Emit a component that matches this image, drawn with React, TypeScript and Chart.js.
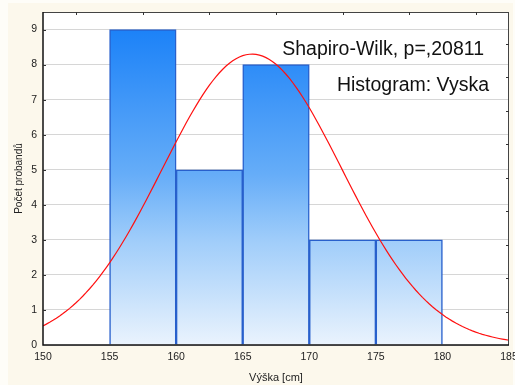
import React, { useEffect, useRef } from "react";
import { Chart, registerables } from "chart.js";

Chart.register(...registerables);

// Histogram bins (cm) and counts
const binCenters = [157.5, 162.5, 167.5, 172.5, 177.5];
const binCounts = [9, 5, 8, 3, 3];
const BIN_WIDTH = 5;

// Axis ticks
const xTicks = [150, 155, 160, 165, 170, 175, 180, 185];
const yTicks = [0, 1, 2, 3, 4, 5, 6, 7, 8, 9];
const topTicks = [152.5, 157.5, 162.5, 167.5, 172.5, 177.5, 182.5];
const rightTicks = [1, 2, 3, 4, 5, 6, 7, 8, 9];

// Fitted normal curve parameters
const FIT_MEAN = 165.7;
const FIT_SD = 6.73;
const SAMPLE_N = 28;
const CURVE_FROM = 150;
const CURVE_TO = 185;
const CURVE_STEP = 0.25;

const annotations = ["Shapiro-Wilk, p=,20811", "Histogram: Vyska"];
const xTitle = "Výška [cm]";
const yTitle = "Počet probandů";

const FONT = "'Liberation Sans', Arial, Helvetica, sans-serif";

function normalCurve() {
  const pts: { x: number; y: number }[] = [];
  const k = (SAMPLE_N * BIN_WIDTH) / (FIT_SD * Math.sqrt(2 * Math.PI));
  for (let x = CURVE_FROM; x <= CURVE_TO + 1e-9; x += CURVE_STEP) {
    const z = (x - FIT_MEAN) / FIT_SD;
    pts.push({ x, y: k * Math.exp(-0.5 * z * z) });
  }
  return pts;
}

const framePlugin = {
  id: "frame",
  beforeDraw(chart: any) {
    const { ctx, chartArea: a } = chart;
    ctx.save();
    ctx.fillStyle = "#ffffff";
    ctx.fillRect(a.left, a.top, a.right - a.left, a.bottom - a.top);
    ctx.restore();
  },
  afterDraw(chart: any) {
    const { ctx, chartArea: a, scales } = chart;
    ctx.save();
    // frame
    ctx.strokeStyle = "#444";
    ctx.lineWidth = 1;
    ctx.beginPath();
    ctx.moveTo(a.left, a.top + 0.5);
    ctx.lineTo(a.right, a.top + 0.5);
    ctx.moveTo(a.right - 0.5, a.top);
    ctx.lineTo(a.right - 0.5, a.bottom);
    ctx.stroke();
    ctx.strokeStyle = "#111";
    ctx.lineWidth = 1.5;
    ctx.beginPath();
    ctx.moveTo(a.left, a.top);
    ctx.lineTo(a.left, a.bottom);
    ctx.lineTo(a.right, a.bottom);
    ctx.stroke();

    // inward tick marks
    ctx.strokeStyle = "#333";
    ctx.lineWidth = 1;
    ctx.beginPath();
    yTicks.forEach((v) => {
      if (v === 0) return;
      const y = Math.round(scales.y.getPixelForValue(v)) + 0.5;
      ctx.moveTo(a.left, y);
      ctx.lineTo(a.left + 3, y);
    });
    topTicks.forEach((v) => {
      const x = Math.round(scales.x.getPixelForValue(v)) + 0.5;
      ctx.moveTo(x, a.top);
      ctx.lineTo(x, a.top + 3);
    });
    rightTicks.forEach((v) => {
      const y = Math.round(scales.y2.getPixelForValue(v)) + 0.5;
      ctx.moveTo(a.right, y);
      ctx.lineTo(a.right - 3, y);
    });
    ctx.stroke();

    // annotation text
    ctx.fillStyle = "#111";
    ctx.font = `19.5px ${FONT}`;
    ctx.textAlign = "right";
    ctx.textBaseline = "alphabetic";
    ctx.fillText(annotations[0], 484, 55);
    ctx.fillText(annotations[1], 489, 91);

    // axis titles
    ctx.fillStyle = "#222";
    ctx.font = `11px ${FONT}`;
    ctx.textAlign = "center";
    ctx.textBaseline = "middle";
    ctx.fillText(xTitle, (a.left + a.right) / 2, 378);
    ctx.save();
    ctx.translate(19, (a.top + a.bottom) / 2);
    ctx.rotate(-Math.PI / 2);
    ctx.font = `10px ${FONT}`;
    ctx.fillText(yTitle, 0, 0);
    ctx.restore();
    ctx.restore();
  },
};

function barFill(c: any) {
  const chart = c.chart;
  const { chartArea, scales } = chart;
  if (!chartArea || !scales.y) return "rgb(102,173,248)";
  const y = scales.y;
  const g = chart.ctx.createLinearGradient(0, y.getPixelForValue(9), 0, y.getPixelForValue(0));
  g.addColorStop(0, "rgb(28,130,248)");
  g.addColorStop(0.46, "rgb(102,173,248)");
  g.addColorStop(0.67, "rgb(160,205,250)");
  g.addColorStop(1, "rgb(234,243,253)");
  return g;
}

export default function App() {
  const canvasRef = useRef<HTMLCanvasElement | null>(null);

  useEffect(() => {
    document.body.style.margin = "0";
    const canvas = canvasRef.current;
    if (!canvas) return;
    const chart = new Chart(canvas, {
      type: "bar",
      data: {
        datasets: [
          {
            type: "line",
            data: normalCurve(),
            borderColor: "#ff1010",
            borderWidth: 1.2,
            pointRadius: 0,
            tension: 0,
            order: 0,
          } as any,
          {
            type: "bar",
            data: binCenters.map((x, i) => ({ x, y: binCounts[i] })),
            backgroundColor: barFill,
            borderColor: "#2860cc",
            borderWidth: 1.5,
            barPercentage: 1,
            categoryPercentage: 1,
            order: 1,
          } as any,
        ],
      },
      options: {
        animation: false,
        responsive: false,
        maintainAspectRatio: false,
        layout: { padding: { top: 12, right: 6, left: 0, bottom: 0 } },
        plugins: { legend: { display: false }, tooltip: { enabled: false } },
        scales: {
          x: {
            type: "linear",
            min: 150,
            max: 185,
            offset: false,
            afterBuildTicks: (s: any) => {
              s.ticks = xTicks.map((v) => ({ value: v }));
            },
            afterFit: (s: any) => {
              s.height = 40;
              s.paddingLeft = 0;
              s.paddingRight = 0;
            },
            grid: { display: false, drawTicks: false, offset: false },
            border: { display: false },
            ticks: {
              padding: 6,
              color: "#222",
              font: { family: FONT, size: 10.5 },
              maxRotation: 0,
              autoSkip: false,
            },
          },
          y: {
            type: "linear",
            min: 0,
            max: 9.5,
            afterBuildTicks: (s: any) => {
              s.ticks = yTicks.map((v) => ({ value: v }));
            },
            afterFit: (s: any) => {
              s.width = 43;
              s.paddingTop = 0;
              s.paddingBottom = 0;
            },
            grid: { color: "#d6d6d6", lineWidth: 1, drawTicks: false },
            border: { display: false },
            ticks: {
              padding: 6,
              color: "#222",
              font: { family: FONT, size: 10.5 },
            },
          },
          y2: {
            type: "linear",
            position: "right",
            display: false,
            min: 0,
            max: 9.95,
          },
        },
      } as any,
      plugins: [framePlugin],
    });
    return () => chart.destroy();
  }, []);

  return (
    <div
      style={{
        position: "absolute",
        left: 0,
        top: 0,
        width: 515,
        height: 385,
        background: "#fefdf8",
        overflow: "hidden",
      }}
    >
      <div
        style={{
          position: "absolute",
          left: 8,
          top: 3,
          width: 505,
          height: 382,
          background: "#fcf8ec",
        }}
      />
      <canvas
        ref={canvasRef}
        width={515}
        height={385}
        style={{ position: "absolute", left: 0, top: 0, width: 515, height: 385 }}
      />
    </div>
  );
}
